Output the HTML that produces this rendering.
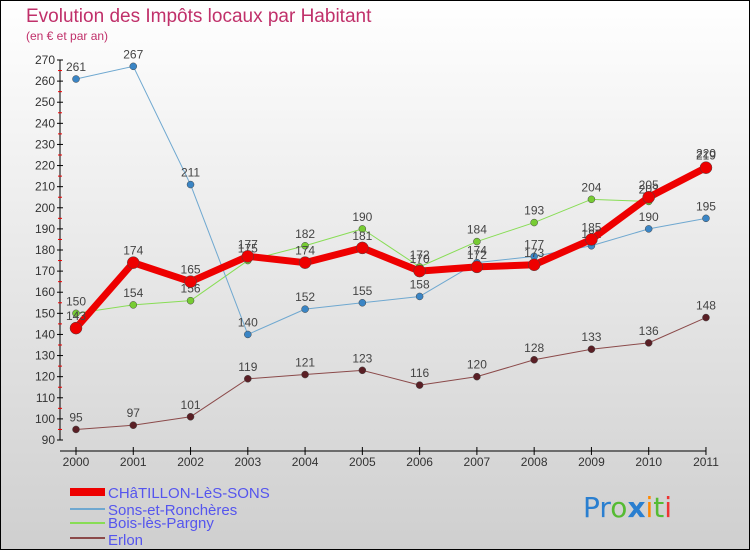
<!DOCTYPE html>
<html><head><meta charset="utf-8"><style>
body{margin:0}
svg{display:block;font-family:"Liberation Sans",sans-serif}
</style></head><body>
<svg id="c" width="750" height="550" xmlns="http://www.w3.org/2000/svg">
<defs><linearGradient id="bg" x1="0" y1="0" x2="0" y2="1"><stop offset="0" stop-color="#ffffff"/><stop offset="1" stop-color="#cfcfcf"/></linearGradient></defs>
<rect x="0.5" y="0.5" width="749" height="549" fill="url(#bg)" stroke="#000"/>
<text x="26" y="22" font-size="19" fill="#c0306a">Evolution des Impôts locaux par Habitant</text>
<text x="26" y="40" font-size="12" fill="#c0306a">(en € et par an)</text>
<g id="axes"></g>
<g id="series"></g>
<g>
<rect x="70" y="488" width="35" height="8" fill="#e00"/>
<text x="108" y="498" font-size="15" fill="#5555ee">CHâTILLON-LèS-SONS</text>
<rect x="70" y="508" width="35" height="2" fill="#6fa8d0"/>
<text x="108" y="515" font-size="15" fill="#5555ee">Sons-et-Ronchères</text>
<rect x="70" y="522" width="35" height="2" fill="#88dd55"/>
<text x="108" y="528" font-size="15" fill="#5555ee">Bois-lès-Pargny</text>
<rect x="70" y="537" width="35" height="2" fill="#8b4a4a"/>
<text x="108" y="545" font-size="15" fill="#5555ee">Erlon</text>
</g>
<g font-size="28" font-family="'DejaVu Sans',sans-serif">
<text x="583" y="517"><tspan fill="#2a7fd0">Pr</tspan><tspan fill="#55bb33">o</tspan><tspan fill="#2a7fd0" font-weight="bold">x</tspan><tspan fill="#ff8800">i</tspan><tspan fill="#55bb33">t</tspan><tspan fill="#ee3333">i</tspan></text>
</g>
</svg>
<script>
const years=["2000","2001","2002","2003","2004","2005","2006","2007","2008","2009","2010","2011"];
const yTicks=[90,100,110,120,130,140,150,160,170,180,190,200,210,220,230,240,250,260,270];
const chatillon=[143,174,165,177,174,181,170,172,173,185,205,219];
const sons=[261,267,211,140,152,155,158,174,177,182,190,195];
const bois=[150,154,156,175,182,190,172,184,193,204,203,220];
const erlon=[95,97,101,119,121,123,116,120,128,133,136,148];
const NS="http://www.w3.org/2000/svg";
const X0=76,XS=57.27,Y0=440,YMIN=90,YK=380/180;
function xs(i){return X0+i*XS}
function ys(v){return Y0-(v-YMIN)*YK}
function mk(t,a,p){const e=document.createElementNS(NS,t);for(const k in a)e.setAttribute(k,a[k]);p.appendChild(e);return e}
const ax=document.getElementById('axes');
let yl=mk('line',{x1:60,y1:ys(270),x2:60,y2:440,stroke:'#000'},ax);


let xl=mk('line',{x1:60,y1:451,x2:706,y2:451,stroke:'#000'},ax);


yTicks.forEach(v=>{
 mk('line',{x1:57,y1:ys(v),x2:63,y2:ys(v),stroke:'#000'},ax);
 if(v<270)mk('line',{x1:58,y1:ys(v+5),x2:62,y2:ys(v+5),stroke:'#e00'},ax);
 const t=mk('text',{x:55,y:ys(v)+4,'font-size':12,'text-anchor':'end',fill:'#333'},ax);t.textContent=v;
 
 
});
years.forEach((y,i)=>{
 mk('line',{x1:xs(i),y1:447,x2:xs(i),y2:455,stroke:'#000'},ax);
 const t=mk('text',{x:xs(i),y:466,'font-size':12,'text-anchor':'middle',fill:'#333'},ax);t.textContent=y;
 
 
});
const sg=document.getElementById('series');
function draw(vals,color,w,r,dot,name){
 const g=mk('g',{},sg);
 
 
 mk('polyline',{points:vals.map((v,i)=>xs(i)+','+ys(v)).join(' '),fill:'none',stroke:color,'stroke-width':w,'stroke-linejoin':'round'},g);
 vals.forEach((v,i)=>{
  const c=mk('circle',{cx:xs(i),cy:ys(v),r:r,fill:dot,stroke:'#444','stroke-width':0.5},g);
  
  
  const t=mk('text',{x:xs(i),y:ys(v)-8,'font-size':12,'text-anchor':'middle',fill:'#444'},g);t.textContent=v;
  
  
 });
}
draw(erlon,'#8b4a4a',1,3.5,'#5a1f25','erlon');
draw(bois,'#88dd55',1,3.5,'#77cc33','bois');
draw(sons,'#6fa8d0',1,3.5,'#3a85c5','sons');
draw(chatillon,'#ee0000',7,6,'#ee0000','chatillon');
</script>
</body></html>
